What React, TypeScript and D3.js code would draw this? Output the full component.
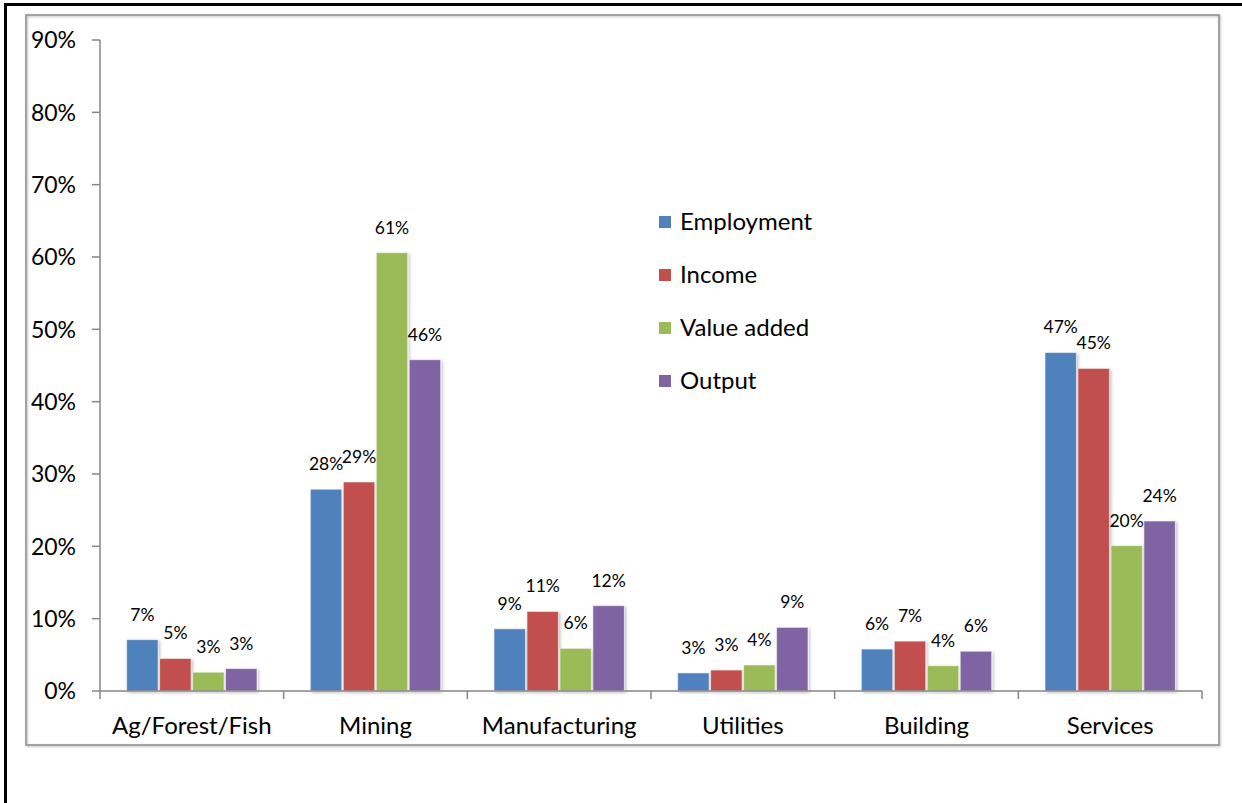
import React from "react";
import * as d3 from "d3";

const categories = ["Ag/Forest/Fish", "Mining", "Manufacturing", "Utilities", "Building", "Services"];
const seriesNames = ["Employment", "Income", "Value added", "Output"];
const employment = [7.1, 27.9, 8.6, 2.5, 5.8, 46.8];
const income = [4.5, 28.9, 11.0, 2.9, 6.9, 44.6];
const valueAdded = [2.6, 60.6, 5.9, 3.6, 3.5, 20.1];
const output = [3.1, 45.8, 11.8, 8.8, 5.5, 23.5];
const seriesValues = [employment, income, valueAdded, output];
const colors = ["#4F81BD", "#C0504D", "#9BBB59", "#8064A2"];
const yTicks = [0, 10, 20, 30, 40, 50, 60, 70, 80, 90];

const W = 1242;
const H = 803;
const FONT = "Lato, 'Open Sans', sans-serif";

export default function App() {
  const x0 = d3.scaleBand<string>().domain(categories).range([100, 1202]).paddingInner(0).paddingOuter(0);
  const bw = x0.bandwidth();
  const x1 = d3.scaleBand<string>().domain(seriesNames).range([bw * 0.141, bw * 0.859]).paddingInner(0);
  const y = d3.scaleLinear().domain([0, 90]).range([691, 40]);
  const axisColor = "#868686";

  return (
    <svg width={W} height={H} style={{ position: "absolute", left: 0, top: 0, background: "#fff" }} fontFamily={FONT}>
      <defs>
        <filter id="sh" x="-20%" y="-5%" width="150%" height="120%">
          <feDropShadow dx="1.5" dy="1.5" stdDeviation="1.5" floodColor="#000" floodOpacity="0.25" />
        </filter>
        <filter id="sh2" x="-2%" y="-2%" width="104%" height="104%">
          <feDropShadow dx="1" dy="1" stdDeviation="0.8" floodColor="#000" floodOpacity="0.3" />
        </filter>
      </defs>
      <rect x={0} y={0} width={W} height={H} fill="#fff" />
      {/* outer border */}
      <rect x={5.5} y={4.5} width={W + 20} height={H + 20} fill="none" stroke="#000" strokeWidth={3} />
      {/* chart area border */}
      <rect x={26} y={15} width={1193} height={730} fill="none" stroke="#8a8a8a" strokeWidth={1.5} filter="url(#sh2)" />

      {/* y axis */}
      <line x1={100} x2={100} y1={y(90)} y2={y(0)} stroke={axisColor} strokeWidth={1.5} />
      {yTicks.map((t) => (
        <g key={t}>
          <line x1={92} x2={100} y1={y(t)} y2={y(t)} stroke={axisColor} strokeWidth={1.5} />
          <text x={76} y={y(t)} dy="0.36em" textAnchor="end" fontSize={23} fill="#000">
            {t}%
          </text>
        </g>
      ))}

      {/* bars */}
      {categories.map((c, ci) => (
        <g key={c} transform={`translate(${x0(c)},0)`}>
          {seriesNames.map((s, si) => {
            const v = seriesValues[si][ci];
            const bx = x1(s)!;
            return (
              <rect
                key={s}
                x={bx + 0.75}
                y={y(v)}
                width={x1.bandwidth() - 1.5}
                height={y(0) - y(v)}
                fill={colors[si]}
                stroke="#fff"
                strokeOpacity={0.6}
                strokeWidth={1}
                filter="url(#sh)"
              />
            );
          })}
        </g>
      ))}

      {/* x axis */}
      <line x1={100} x2={1202} y1={y(0)} y2={y(0)} stroke={axisColor} strokeWidth={1.5} />
      {categories.map((c) => (
        <line key={c} x1={x0(c)!} x2={x0(c)!} y1={y(0)} y2={y(0) + 8} stroke={axisColor} strokeWidth={1.5} />
      ))}
      <line x1={1202} x2={1202} y1={y(0)} y2={y(0) + 8} stroke={axisColor} strokeWidth={1.5} />
      {categories.map((c) => (
        <text key={c} x={x0(c)! + bw / 2} y={734} textAnchor="middle" fontSize={24} fill="#000">
          {c}
        </text>
      ))}

      {/* data labels */}
      {categories.map((c, ci) =>
        seriesNames.map((s, si) => {
          const v = seriesValues[si][ci];
          return (
            <text
              key={c + s}
              x={x0(c)! + x1(s)! + x1.bandwidth() / 2}
              y={y(v) - 19}
              textAnchor="middle"
              fontSize={17.5}
              fill="#000"
            >
              {Math.round(v)}%
            </text>
          );
        })
      )}

      {/* legend */}
      {seriesNames.map((s, si) => {
        const base = 230 + si * 53;
        return (
          <g key={s}>
            <rect x={659} y={base - 14} width={12} height={12} fill={colors[si]} />
            <text x={680} y={base} fontSize={24} fill="#000">
              {s}
            </text>
          </g>
        );
      })}
    </svg>
  );
}
